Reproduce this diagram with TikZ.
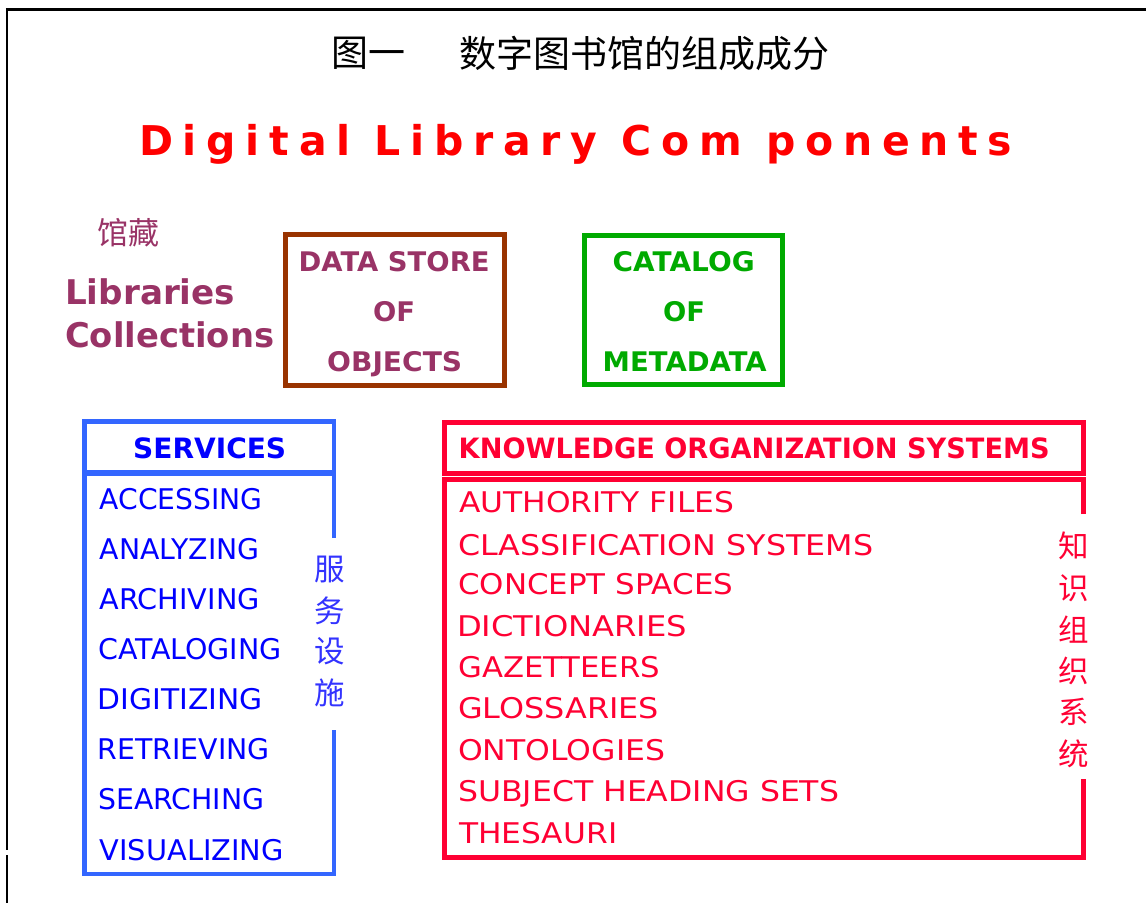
\documentclass[tikz,border=0pt]{standalone}
\usepackage{fontspec}
\usepackage{graphicx}
\setmainfont{DejaVu Sans}
\newfontfamily\cjk{Noto Sans CJK SC}
\newfontfamily\titlefont[LetterSpace=23.8]{DejaVu Sans}
\newcommand\fitw[2]{\resizebox{#1pt}{\height}{#2}}
\definecolor{dlred}{RGB}{255,0,0}
\definecolor{kred}{RGB}{255,0,51}
\definecolor{sblue}{RGB}{51,102,255}
\definecolor{tblue}{RGB}{0,0,255}
\definecolor{cblue}{RGB}{51,51,255}
\definecolor{purp}{RGB}{153,51,102}
\definecolor{dsbrown}{RGB}{153,51,0}
\definecolor{grn}{RGB}{0,170,0}
\begin{document}
\begin{tikzpicture}[x=1pt,y=-1pt,
  txt/.style={inner sep=0pt,anchor=base west},
  item/.style={txt,font=\fontsize{28.5}{30}\selectfont},
  bolditem/.style={txt,font=\fontsize{28}{30}\selectfont\bfseries},
  boxtxt/.style={txt,font=\fontsize{27}{30}\selectfont\bfseries},
  libtxt/.style={txt,text=purp,font=\fontsize{34}{36}\selectfont\bfseries},
  cjkv/.style={inner sep=0pt,anchor=center,font=\cjk\fontsize{30.5}{31}\selectfont},
  frame/.style={draw=black,line width=2.5pt},
  bluebox/.style={draw=sblue,line width=4.5pt,line join=miter},
  redbox/.style={draw=kred,line width=5pt,line join=miter}]
\useasboundingbox (0,0) rectangle (1146,903);
% frame
\draw[frame] (5.8,9.5) -- (1146,9.5);
\draw[frame,line width=2pt] (7,9.5) -- (7,850);
\draw[frame,line width=2pt] (7,855) -- (7,903);
% titles
\node[inner sep=0pt,anchor=west,font=\cjk\fontsize{37}{37}\selectfont] (t1) at (331,53) {图一};
\node[inner sep=0pt,anchor=west,font=\cjk\fontsize{37}{37}\selectfont] (t2) at (459,53) {数字图书馆的组成成分};
\node[txt,text=dlred,font=\titlefont\bfseries\fontsize{41}{44}\selectfont] (dl) at (139,155.7) {Digital Library Com ponents};
% library collections
\node[inner sep=0pt,anchor=west,text=purp,font=\cjk\fontsize{31}{31}\selectfont] (gc) at (97,233) {馆藏};
\node[libtxt] (lib) at (65,304.5) {\fitw{170}{Libraries}};
\node[libtxt] (col) at (65,347) {\fitw{209}{Collections}};
% data store box
\draw[draw=dsbrown,line width=5pt] (285,234) rectangle (504,385);
\node[boxtxt,text=purp] (ds1) at (298.5,271) {\fitw{191}{DATA STORE}};
\node[boxtxt,text=purp] (ds2) at (373,321.5) {\fitw{42}{OF}};
\node[boxtxt,text=purp] (ds3) at (327,371) {\fitw{135}{OBJECTS}};
% catalog box
\draw[draw=grn,line width=5pt] (584,235) rectangle (782.5,384);
\node[boxtxt,text=grn] (cm1) at (612.5,271) {\fitw{142}{CATALOG}};
\node[boxtxt,text=grn] (cm2) at (663,321.5) {\fitw{42}{OF}};
\node[boxtxt,text=grn] (cm3) at (602.5,371) {\fitw{164}{METADATA}};
% services
\draw[bluebox] (84.5,421.5) rectangle (334,472);
\draw[bluebox] (334,538) -- (334,474) -- (84.5,474) -- (84.5,874) -- (334,874) -- (334,730);
\node[bolditem,text=tblue] (sv) at (133,458) {\fitw{153}{SERVICES}};
\node[item,text=tblue] (s1) at (99.5,509) {\fitw{163}{ACCESSING}};
\node[item,text=tblue] (s2) at (99.5,559.1) {\fitw{160}{ANALYZING}};
\node[item,text=tblue] (s3) at (99.5,609.3) {\fitw{160}{ARCHIVING}};
\node[item,text=tblue] (s4) at (98.5,659.4) {\fitw{183}{CATALOGING}};
\node[item,text=tblue] (s5) at (97.5,709.6) {\fitw{165}{DIGITIZING}};
\node[item,text=tblue] (s6) at (97.5,759.7) {\fitw{172}{RETRIEVING}};
\node[item,text=tblue] (s7) at (98,809.9) {\fitw{166}{SEARCHING}};
\node[item,text=tblue] (s8) at (99.5,860) {\fitw{184}{VISUALIZING}};
\node[cjkv,text=cblue] (f1) at (329.5,569.5) {服};
\node[cjkv,text=cblue] (f2) at (329.5,610.5) {务};
\node[cjkv,text=cblue] (f3) at (329.5,651.5) {设};
\node[cjkv,text=cblue] (f4) at (329.5,693) {施};
% KOS
\draw[redbox] (444,422.5) rectangle (1083,473);
\draw[redbox] (1083,514) -- (1083,479.5) -- (444,479.5) -- (444,857) -- (1083,857) -- (1083,779);
\node[bolditem,text=kred] (kos) at (458.5,458) {\fitw{591}{KNOWLEDGE ORGANIZATION SYSTEMS}};
\node[item,text=kred] (k1) at (459,512) {\fitw{275}{AUTHORITY FILES}};
\node[item,text=kred] (k2) at (458,555.5) {\fitw{415}{CLASSIFICATION SYSTEMS}};
\node[item,text=kred] (k3) at (458,594.5) {\fitw{275}{CONCEPT SPACES}};
\node[item,text=kred] (k4) at (457,636.5) {\fitw{230}{DICTIONARIES}};
\node[item,text=kred] (k5) at (458,677.5) {\fitw{202}{GAZETTEERS}};
\node[item,text=kred] (k6) at (458,718.5) {\fitw{201}{GLOSSARIES}};
\node[item,text=kred] (k7) at (458,760.5) {\fitw{207}{ONTOLOGIES}};
\node[item,text=kred] (k8) at (458,801.5) {\fitw{381}{SUBJECT HEADING SETS}};
\node[item,text=kred] (k9) at (459,843.5) {\fitw{158}{THESAURI}};
\node[cjkv,text=kred] (z1) at (1073.5,546) {知};
\node[cjkv,text=kred] (z2) at (1073.5,588) {识};
\node[cjkv,text=kred] (z3) at (1073.5,630) {组};
\node[cjkv,text=kred] (z4) at (1073.5,670.5) {织};
\node[cjkv,text=kred] (z5) at (1073.5,712) {系};
\node[cjkv,text=kred] (z6) at (1073.5,753.5) {统};
\end{tikzpicture}
\end{document}
